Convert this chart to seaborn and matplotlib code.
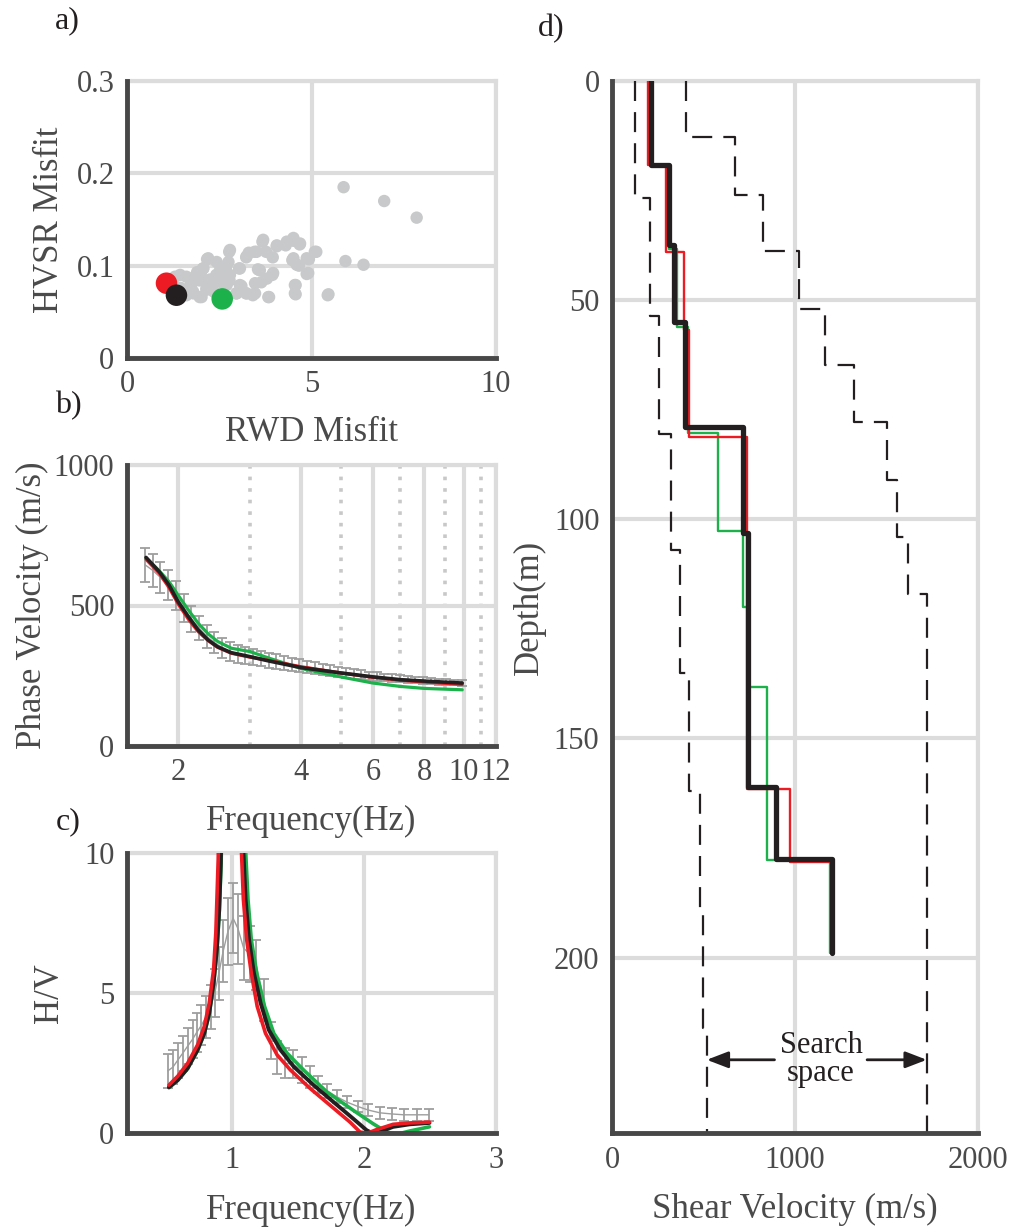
import numpy as np
import pandas as pd
import matplotlib
matplotlib.use("Agg")
import matplotlib.pyplot as plt
import seaborn as sns
from matplotlib.ticker import NullFormatter

sns.set_style("white")
plt.rcParams["font.family"] = ["Liberation Serif", "DejaVu Serif"]

# ---------------- data ----------------
# a) misfit cloud
rwd_misfit = [5.87, 6.97, 7.85, 3.67, 4.06, 4.30, 4.51, 4.68, 5.13, 4.93,
              4.48, 4.66, 4.87, 5.92, 6.41, 2.77, 2.17, 3.23, 3.46, 3.95,
              3.77, 2.69, 3.04, 3.55, 3.94, 3.64, 2.06, 1.61, 1.30, 1.97,
              2.42, 2.60, 2.78, 2.15, 1.79, 1.97, 2.96, 3.23, 3.41, 3.85,
              4.57, 4.57, 5.44, 1.61, 2.29, 1.45, 1.75, 1.90, 2.35, 2.55,
              2.20, 1.65, 2.45, 3.10, 2.00,
              2.20, 2.79, 2.75, 2.52, 2.07, 1.98, 2.25, 2.52, 2.79, 3.06,
              3.24, 3.51, 3.69, 4.06, 4.33, 4.51, 4.69, 5.09, 4.87, 4.51,
              4.60, 4.91, 3.96, 3.60, 3.79, 3.47, 3.06, 3.24, 3.47, 3.83,
              4.55, 4.55, 5.46, 1.71, 1.44, 1.80, 2.02, 2.16, 2.97, 3.30,
              2.70, 1.71, 2.43]
hvsr_misfit = [0.185, 0.170, 0.152, 0.126, 0.121, 0.122, 0.127, 0.123, 0.115, 0.107,
               0.106, 0.100, 0.091, 0.105, 0.101, 0.115, 0.107, 0.109, 0.115, 0.109,
               0.115, 0.099, 0.097, 0.096, 0.090, 0.082, 0.097, 0.088, 0.088, 0.084,
               0.090, 0.081, 0.084, 0.075, 0.072, 0.066, 0.070, 0.070, 0.068, 0.066,
               0.079, 0.069, 0.068, 0.068, 0.077, 0.076, 0.080, 0.093, 0.072, 0.088,
               0.079, 0.071, 0.068, 0.078, 0.092,
               0.108, 0.117, 0.104, 0.095, 0.097, 0.086, 0.085, 0.083, 0.090, 0.097,
               0.110, 0.115, 0.128, 0.122, 0.126, 0.130, 0.124, 0.115, 0.108, 0.108,
               0.101, 0.092, 0.092, 0.095, 0.086, 0.081, 0.079, 0.070, 0.070, 0.066,
               0.079, 0.070, 0.069, 0.086, 0.090, 0.070, 0.066, 0.074, 0.070, 0.114,
               0.079, 0.077, 0.104]
best_names = ["red", "black", "green"]
best_rwd = [1.07, 1.34, 2.58]
best_hvsr = [0.081, 0.068, 0.064]

# b) dispersion
disp_freq = [1.660, 1.734, 1.811, 1.891, 1.975, 2.063, 2.155, 2.251, 2.351, 2.456,
             2.565, 2.679, 2.798, 2.923, 3.053, 3.189, 3.331, 3.479, 3.634, 3.795,
             3.964, 4.141, 4.325, 4.517, 4.718, 4.928, 5.148, 5.377, 5.616, 5.866,
             6.127, 6.400, 6.684, 6.982, 7.292, 7.617, 7.956, 8.310, 8.680, 9.066,
             9.469, 9.891]
disp_mean = [645, 625, 600, 572, 535, 492, 452, 420, 390, 368,
             350, 337, 328, 321, 316, 311, 305, 300, 295, 290,
             285, 281, 277, 273, 269, 264, 260, 257, 253, 250,
             247, 244, 241, 239, 237, 235, 233, 231, 229, 227,
             226, 225]
disp_err = [60, 58, 56, 54, 52, 50, 47, 44, 41, 38,
            36, 34, 32, 30, 29, 28, 27, 26, 25, 24,
            23, 22, 21, 20, 19, 18, 17, 17, 16, 15,
            15, 14, 14, 13, 13, 12, 12, 11, 11, 11,
            10, 10]
curve_freq = [1.67, 1.80, 1.90, 2.00, 2.12, 2.24, 2.37, 2.50, 2.70, 3.00,
              3.35, 4.00, 5.00, 6.00, 7.00, 8.00, 9.92]
black_vel = [671, 620, 573, 514, 460, 413, 377, 353, 332, 318,
             302, 279, 260, 246, 236, 231, 224]
red_vel = [664, 614, 564, 506, 451, 407, 375, 351, 330, 316,
           304, 282, 260, 244, 234, 228, 219]
green_vel = [669, 623, 585, 537, 484, 437, 399, 372, 348, 336,
             312, 276, 246, 224, 212, 205, 200]

# c) H/V
hv_freq = [0.51, 0.548, 0.585, 0.623, 0.66, 0.698, 0.73, 0.765, 0.80, 0.835,
           0.866, 0.897, 0.93, 0.966, 1.005, 1.042, 1.085, 1.13, 1.18, 1.24,
           1.29, 1.34, 1.40, 1.46, 1.53, 1.59, 1.65, 1.72, 1.79, 1.87,
           1.95, 2.03, 2.12, 2.21, 2.30, 2.40, 2.49]
hv_mean = [2.22, 2.35, 2.60, 2.85, 3.10, 3.35, 3.60, 3.85, 4.15, 4.50,
           5.00, 5.70, 6.50, 7.20, 7.67, 7.30, 6.60, 6.40, 6.00, 4.75,
           3.30, 2.70, 2.50, 2.45, 2.25, 2.00, 1.72, 1.50, 1.30, 1.10,
           0.95, 0.82, 0.72, 0.68, 0.65, 0.65, 0.65]
hv_err = [0.61, 0.60, 0.62, 0.63, 0.65, 0.67, 0.70, 0.72, 0.75, 0.80,
          0.85, 0.95, 1.10, 1.20, 1.25, 1.25, 1.15, 1.00, 0.90, 0.75,
          0.66, 0.60, 0.55, 0.50, 0.48, 0.40, 0.30, 0.25, 0.24, 0.22,
          0.20, 0.20, 0.22, 0.22, 0.22, 0.22, 0.22]
black_hv_f = [0.518, 0.585, 0.66, 0.736, 0.786, 0.824, 0.857, 0.882, 0.900, 0.912,
              0.95, 1.0, 1.05, 1.083, 1.10, 1.126, 1.163, 1.214, 1.276, 1.364,
              1.465, 1.616, 1.766, 1.917, 2.018, 2.068, 2.118, 2.219, 2.344, 2.495]
black_hv = [1.63, 1.89, 2.31, 2.97, 3.56, 4.28, 5.36, 6.56, 7.99, 9.67,
            20, 40, 20, 10.1, 8.35, 6.91, 5.72, 4.64, 3.68, 2.97,
            2.37, 1.71, 1.11, 0.51, 0.10, -0.02, 0.04, 0.22, 0.31, 0.36]
red_hv_f = [0.518, 0.585, 0.66, 0.736, 0.786, 0.824, 0.857, 0.874, 0.892, 0.93,
            0.98, 1.03, 1.068, 1.083, 1.108, 1.143, 1.188, 1.251, 1.339, 1.44,
            1.59, 1.741, 1.892, 1.967, 2.018, 2.093, 2.219, 2.344, 2.495]
red_hv = [1.71, 2.03, 2.49, 3.15, 3.80, 4.64, 5.84, 7.15, 9.78, 20,
          40, 20, 10.1, 8.35, 6.91, 5.72, 4.52, 3.56, 2.79, 2.25,
          1.59, 0.99, 0.39, 0.04, -0.02, 0.12, 0.31, 0.36, 0.39]
green_hv_f = [0.518, 0.585, 0.66, 0.736, 0.786, 0.824, 0.857, 0.882, 0.900, 0.914,
              0.96, 1.01, 1.06, 1.10, 1.118, 1.143, 1.188, 1.244, 1.314, 1.415,
              1.54, 1.716, 1.917, 2.068, 2.168, 2.244, 2.344, 2.495]
green_hv = [1.62, 1.88, 2.30, 2.95, 3.54, 4.25, 5.32, 6.50, 7.90, 9.60,
            20, 40, 20, 10.1, 8.35, 6.91, 5.60, 4.52, 3.56, 2.85,
            2.25, 1.47, 0.81, 0.33, 0.04, -0.05, 0.07, 0.22]

# d) layered Vs profiles (layer boundaries in m, layer velocities in m/s)
black_depth = [0, 19.1, 37.5, 55.0, 79.0, 103.2, 161.0, 177.4, 199.0]
black_vs = [213, 309, 337, 397, 714, 745, 897, 1204]
red_depth = [0, 19.1, 39.0, 56.8, 81.2, 161.5, 178.2, 199.0]
red_vs = [199, 294, 392, 420, 736, 975, 1209]
green_depth = [0, 19.1, 38.3, 56.2, 80.4, 102.6, 120.0, 138.2, 177.8, 199.0]
green_vs = [213, 309, 355, 415, 581, 714, 745, 847, 1190]
min_depth = [0, 26.7, 53.7, 80.6, 107, 135, 162, 189, 216, 240]
min_vs = [123, 210, 258, 324, 369, 421, 481, 499, 518]
max_depth = [0, 12.8, 25.9, 38.8, 52.0, 64.8, 77.9, 91.0, 104.1, 117.0, 240]
max_vs = [405, 673, 824, 1023, 1163, 1321, 1502, 1557, 1619, 1720]

# ---------------- style ----------------
RED = "#ED1C24"
GREEN = "#1DB14B"
BLACK = "#231F20"
GREYPT = "#C8C9CA"
ERRC = "#9E9E9E"
GRID = "#DCDCDC"
SPINE = "#474747"
TXT = "#4A4A4A"
TICK_FS = 22
LAB_FS = 25

W, H = 1016, 1232
fig = plt.figure(figsize=(W / 100, H / 100), dpi=100)


def add_ax(l, r, t, b):
    return fig.add_axes([l / W, 1 - b / H, (r - l) / W, (b - t) / H])


def style(ax):
    for s in ["left", "bottom"]:
        ax.spines[s].set_color(SPINE)
        ax.spines[s].set_linewidth(3.5)
        ax.spines[s].set_zorder(5)
    for s in ["top", "right"]:
        ax.spines[s].set_color(GRID)
        ax.spines[s].set_linewidth(3.0)
        ax.spines[s].set_zorder(0.5)
    ax.tick_params(which="major", direction="in", length=6, width=3.5, color=SPINE,
                   labelsize=TICK_FS, labelcolor=TXT, pad=9,
                   top=False, right=False)
    ax.grid(True, which="major", color=GRID, lw=3.0)
    ax.set_axisbelow(True)
    ax.set_facecolor("white")


def labels(ax, xl, yl, xly, ylx):
    ax.set_xlabel(xl, fontsize=LAB_FS, color=TXT)
    ax.set_ylabel(yl, fontsize=LAB_FS, color=TXT)
    ax.xaxis.label.set_verticalalignment("center")
    ax.yaxis.label.set_verticalalignment("center")
    ax.xaxis.set_label_coords(0.5, xly)
    ax.yaxis.set_label_coords(ylx, 0.5)


# ---- a) ----
axa = add_ax(127, 496, 81, 358)
style(axa)
sns.scatterplot(x=rwd_misfit, y=hvsr_misfit, ax=axa, color=GREYPT, s=80,
                edgecolor="none", linewidth=0, zorder=2, legend=False)
best_cols = {"red": RED, "black": BLACK, "green": GREEN}
dfb = pd.DataFrame({"rwd": best_rwd, "hvsr": best_hvsr, "name": best_names})
sns.scatterplot(data=dfb, x="rwd", y="hvsr", hue="name", palette=best_cols,
                ax=axa, s=240, edgecolor="none", linewidth=0, zorder=3, legend=False)
axa.set_xlim(0, 10)
axa.set_ylim(0, 0.3)
axa.set_xticks([0, 5, 10], labels=["0", "5", "10"])
axa.set_yticks([0, 0.1, 0.2, 0.3], labels=["0", "0.1", "0.2", "0.3"])
labels(axa, "RWD Misfit", "HVSR Misfit", -0.27, -0.21)

# ---- b) ----
axb = add_ax(127, 496, 465, 746)
style(axb)
axb.set_xscale("log")
axb.errorbar(disp_freq, disp_mean, yerr=disp_err, color=ERRC, lw=1.0,
             elinewidth=1.3, capsize=3.5, capthick=1.3, zorder=2)
for vel, col, lw in [(green_vel, GREEN, 2.3), (red_vel, RED, 2.3), (black_vel, BLACK, 2.6)]:
    sns.lineplot(x=curve_freq, y=vel, ax=axb, color=col, lw=lw, sort=False,
                 estimator=None, zorder=3)
axb.set_xlim(1.5, 12)
axb.set_ylim(0, 1000)
axb.set_xticks([2, 4, 6, 8, 10, 12], labels=["2", "4", "6", "8", "10", "12"])
axb.set_xticks([3, 5, 7, 9, 11], minor=True)
axb.xaxis.set_minor_formatter(NullFormatter())
axb.tick_params(which="minor", direction="in", length=3, width=3, color=SPINE,
                top=False, right=False, left=False)
axb.grid(True, which="minor", axis="x", color="#C8C8C8", lw=2.6, ls=(0, (1, 2.2)))
axb.set_yticks([0, 500, 1000], labels=["0", "500", "1000"])
labels(axb, "Frequency(Hz)", "Phase Velocity (m/s)", -0.27, -0.255)

# ---- c) ----
axc = add_ax(127, 496, 853, 1133)
style(axc)
axc.errorbar(hv_freq, hv_mean, yerr=hv_err, color=ERRC, lw=1.0,
             elinewidth=1.3, capsize=3.5, capthick=1.3, zorder=2)
for fr, hv, col, lw in [(green_hv_f, green_hv, GREEN, 2.6), (black_hv_f, black_hv, BLACK, 2.8),
                        (red_hv_f, red_hv, RED, 2.6)]:
    sns.lineplot(x=fr, y=hv, ax=axc, color=col, lw=lw, sort=False,
                 estimator=None, zorder=3)
axc.set_xlim(0.2, 3)
axc.set_ylim(0, 10)
axc.set_xticks([1, 2, 3], labels=["1", "2", "3"])
axc.set_yticks([0, 5, 10], labels=["0", "5", "10"])
labels(axc, "Frequency(Hz)", "H/V", -0.275, -0.21)

# ---- d) ----
axd = add_ax(612, 978, 81, 1133)
style(axd)


def steps(depths, vs):
    xs, ys = [], []
    for i, v in enumerate(vs):
        xs += [v, v]
        ys += [depths[i], depths[i + 1]]
    return xs, ys


for dep, vs in [(min_depth, min_vs), (max_depth, max_vs)]:
    xs, ys = steps(dep, vs)
    sns.lineplot(x=xs, y=ys, ax=axd, color=BLACK, lw=1.6, sort=False,
                 estimator=None, zorder=3, linestyle=(0, (9, 5)))
for dep, vs, col, lw in [(green_depth, green_vs, GREEN, 1.7), (red_depth, red_vs, RED, 1.7),
                         (black_depth, black_vs, BLACK, 3.8)]:
    xs, ys = steps(dep, vs)
    sns.lineplot(x=xs, y=ys, ax=axd, color=col, lw=lw, sort=False,
                 estimator=None, zorder=3)
axd.set_xlim(0, 2000)
axd.set_ylim(240, 0)
axd.set_xticks([0, 1000, 2000], labels=["0", "1000", "2000"])
axd.set_yticks([0, 50, 100, 150, 200], labels=["0", "50", "100", "150", "200"])
labels(axd, "Shear Velocity (m/s)", "Depth(m)", -0.073, -0.226)

arrow_depth = 223.3
arr = dict(arrowstyle="-|>,head_length=0.65,head_width=0.25", color=BLACK,
           lw=2.0, mutation_scale=20, shrinkA=0, shrinkB=0)
axd.annotate("", xy=(min_vs[-1], arrow_depth), xytext=(888, arrow_depth), arrowprops=arr, zorder=4)
axd.annotate("", xy=(max_vs[-1], arrow_depth), xytext=(1394, arrow_depth), arrowprops=arr, zorder=4)
axd.text(1142, arrow_depth, "Search\nspace", ha="center", va="center", fontsize=22,
         color=BLACK, linespacing=0.95, zorder=4)

# panel letters
for txt, x, y in [("a)", 67, 21), ("b)", 68, 406), ("c)", 68, 822), ("d)", 551, 29)]:
    fig.text(x / W, 1 - y / H, txt, ha="center", va="center", fontsize=23, color=BLACK)

fig.savefig("out.png", dpi=100, facecolor="white")
